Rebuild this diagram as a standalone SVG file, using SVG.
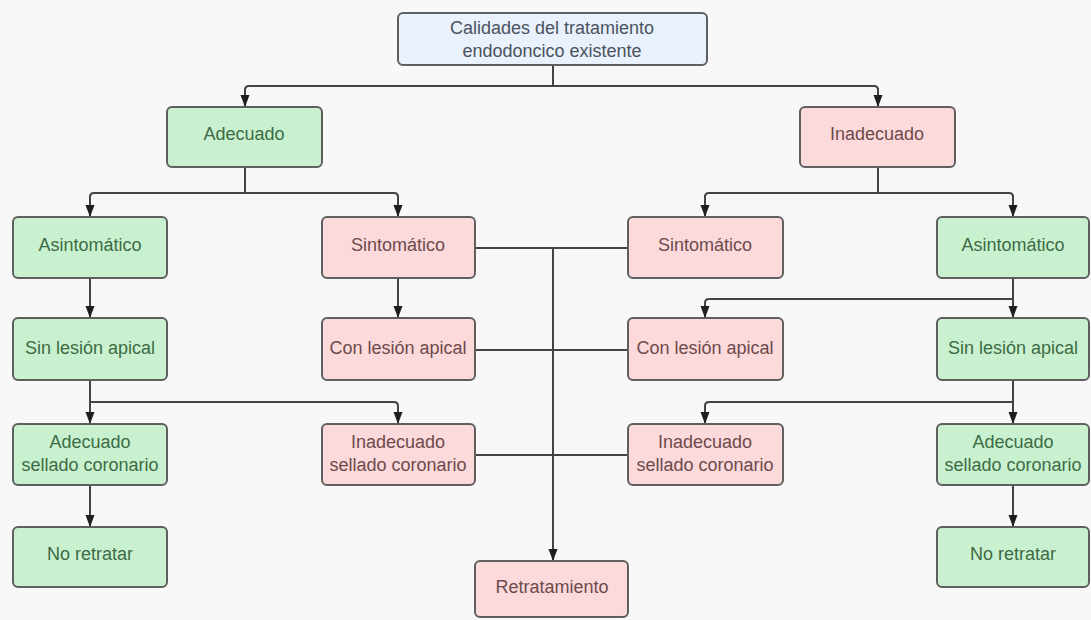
<svg xmlns="http://www.w3.org/2000/svg" width="1091" height="620" viewBox="0 0 1091 620">
<style>
text{font-family:"Liberation Sans",Arial,sans-serif;font-size:18px;text-anchor:middle;dominant-baseline:central}
.b{stroke:#5f5f5f;stroke-width:2}
.g{fill:#c9f1cf}
.p{fill:#fcd9da}
.u{fill:#e8f1fc}
.tg{fill:#3d6b45}
.tp{fill:#6e4a4c}
.tu{fill:#4a5360}
.c{fill:none;stroke:#444;stroke-width:2}
</style>
<defs>
<marker id="ar" viewBox="0 0 12 10" refX="12" refY="5" markerWidth="12" markerHeight="10" markerUnits="userSpaceOnUse" orient="auto"><path d="M0,0.5 L12,5 L0,9.5 z" fill="#1e1e1e"/></marker>
</defs>
<rect width="1091" height="620" fill="#f8f8f8"/>
<g id="connectors">
<path class="c" d="M553,65 V86 M245,107 V90 Q245,86 249,86 H874 Q878,86 878,90 V107" />
<path class="c" d="M245,88 V107" marker-end="url(#ar)"/>
<path class="c" d="M878,88 V107" marker-end="url(#ar)"/>
<path class="c" d="M245,167 V193 M90,217 V197 Q90,193 94,193 H394 Q398,193 398,197 V217"/>
<path class="c" d="M90,195 V217" marker-end="url(#ar)"/>
<path class="c" d="M398,195 V217" marker-end="url(#ar)"/>
<path class="c" d="M878,167 V193 M705,217 V197 Q705,193 709,193 H1009 Q1013,193 1013,197 V217"/>
<path class="c" d="M705,195 V217" marker-end="url(#ar)"/>
<path class="c" d="M1013,195 V217" marker-end="url(#ar)"/>
<path class="c" d="M90,278 V318" marker-end="url(#ar)"/>
<path class="c" d="M398,278 V318" marker-end="url(#ar)"/>
<path class="c" d="M1013,278 V318" marker-end="url(#ar)"/>
<path class="c" d="M1013,299 H709 Q705,299 705,303 V318" marker-end="url(#ar)"/>
<path class="c" d="M90,380 V424" marker-end="url(#ar)"/>
<path class="c" d="M90,402 H394 Q398,402 398,406 V424" marker-end="url(#ar)"/>
<path class="c" d="M1013,380 V424" marker-end="url(#ar)"/>
<path class="c" d="M1013,402 H709 Q705,402 705,406 V424" marker-end="url(#ar)"/>
<path class="c" d="M90,485 V527" marker-end="url(#ar)"/>
<path class="c" d="M1013,485 V527" marker-end="url(#ar)"/>
<path class="c" d="M475,248 H628 M475,350 H628 M475,455 H628"/>
<path class="c" d="M553,248 V561" marker-end="url(#ar)"/>
</g>
<g id="n-root"><rect class="b u" x="398" y="13" width="309" height="52" rx="5"/><text class="tu" x="552" y="28">Calidades del tratamiento</text><text class="tu" x="552" y="51">endodoncico existente</text></g>
<g id="n-adecuado"><rect class="b g" x="167" y="107" width="155" height="60" rx="5"/><text class="tg" x="244" y="134">Adecuado</text></g>
<g id="n-inadecuado"><rect class="b p" x="800" y="107" width="155" height="60" rx="5"/><text class="tp" x="877" y="134">Inadecuado</text></g>
<g id="n-asint-l"><rect class="b g" x="13" y="217" width="154" height="61" rx="5"/><text class="tg" x="90" y="245">Asintomático</text></g>
<g id="n-sint-l"><rect class="b p" x="322" y="217" width="153" height="61" rx="5"/><text class="tp" x="398" y="245">Sintomático</text></g>
<g id="n-sint-r"><rect class="b p" x="628" y="217" width="155" height="61" rx="5"/><text class="tp" x="705" y="245">Sintomático</text></g>
<g id="n-asint-r"><rect class="b g" x="937" y="217" width="152" height="61" rx="5"/><text class="tg" x="1013" y="245">Asintomático</text></g>
<g id="n-sinles-l"><rect class="b g" x="13" y="318" width="154" height="62" rx="5"/><text class="tg" x="90" y="348">Sin lesión apical</text></g>
<g id="n-conles-l"><rect class="b p" x="322" y="318" width="153" height="62" rx="5"/><text class="tp" x="398" y="348">Con lesión apical</text></g>
<g id="n-conles-r"><rect class="b p" x="628" y="318" width="155" height="62" rx="5"/><text class="tp" x="705" y="348">Con lesión apical</text></g>
<g id="n-sinles-r"><rect class="b g" x="937" y="318" width="152" height="62" rx="5"/><text class="tg" x="1013" y="348">Sin lesión apical</text></g>
<g id="n-adsel-l"><rect class="b g" x="13" y="424" width="154" height="61" rx="5"/><text class="tg" x="90" y="442">Adecuado</text><text class="tg" x="90" y="465">sellado coronario</text></g>
<g id="n-insel-l"><rect class="b p" x="322" y="424" width="153" height="61" rx="5"/><text class="tp" x="398" y="442">Inadecuado</text><text class="tp" x="398" y="465">sellado coronario</text></g>
<g id="n-insel-r"><rect class="b p" x="628" y="424" width="155" height="61" rx="5"/><text class="tp" x="705" y="442">Inadecuado</text><text class="tp" x="705" y="465">sellado coronario</text></g>
<g id="n-adsel-r"><rect class="b g" x="937" y="424" width="152" height="61" rx="5"/><text class="tg" x="1013" y="442">Adecuado</text><text class="tg" x="1013" y="465">sellado coronario</text></g>
<g id="n-noret-l"><rect class="b g" x="13" y="527" width="154" height="60" rx="5"/><text class="tg" x="90" y="554">No retratar</text></g>
<g id="n-noret-r"><rect class="b g" x="937" y="527" width="152" height="60" rx="5"/><text class="tg" x="1013" y="554">No retratar</text></g>
<g id="n-retrat"><rect class="b p" x="475" y="561" width="153" height="56" rx="5"/><text class="tp" x="552" y="587">Retratamiento</text></g>
</svg>
